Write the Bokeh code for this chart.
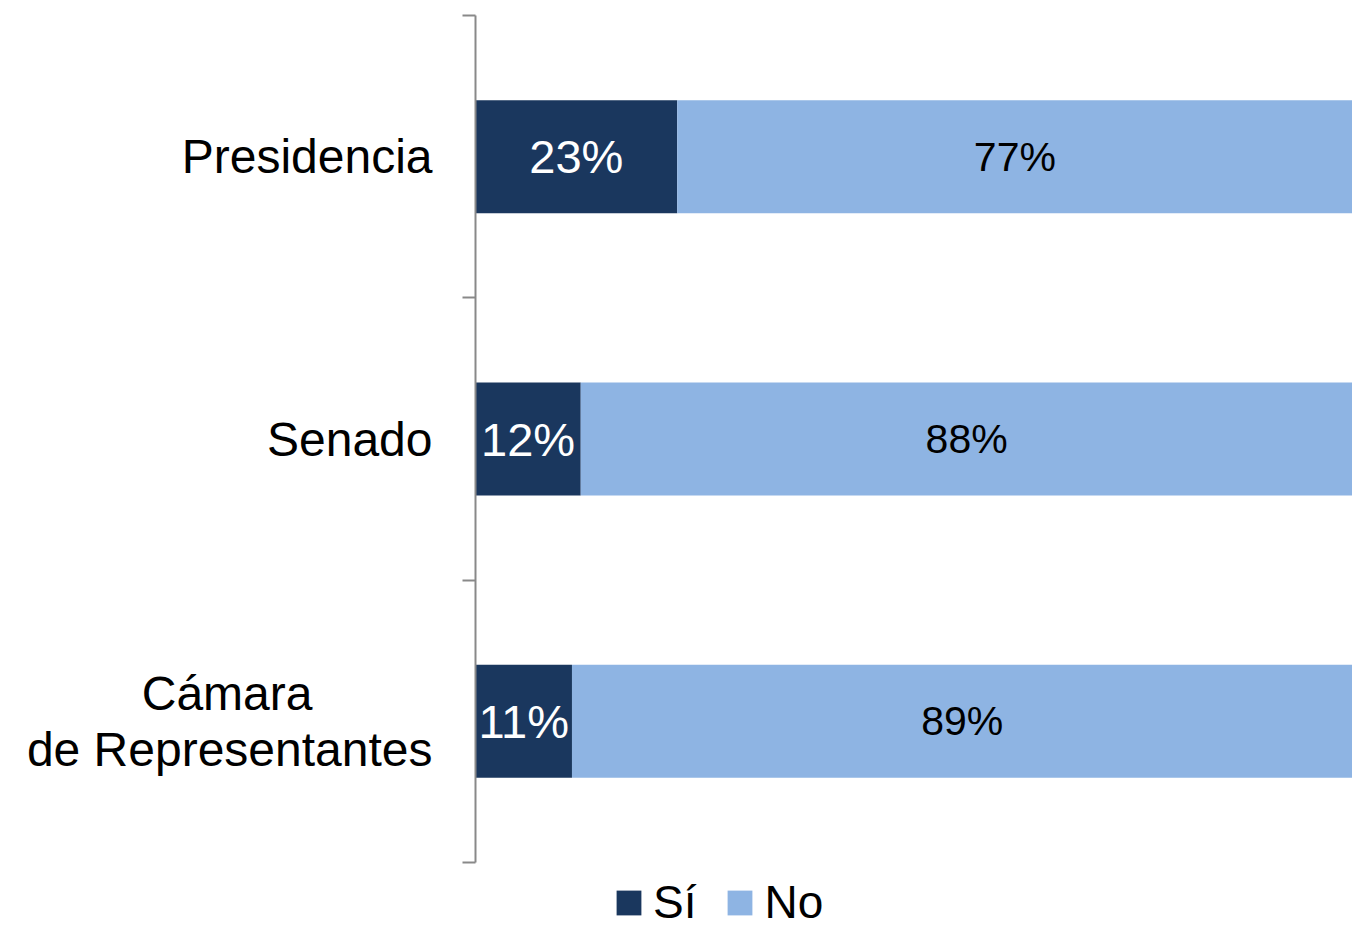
from bokeh.plotting import figure
from bokeh.models import Range1d, FixedTicker, Legend, LegendItem, ColumnDataSource
from bokeh.embed import file_html
from bokeh.resources import INLINE

categories = ["Presidencia", "Senado", "Cámara\nde Representantes"]
si_values = [23, 12, 11]
no_values = [77, 88, 89]
series_names = ["Sí", "No"]

DARK = "#1A375E"
LIGHT = "#8EB4E3"
AXIS = "#898989"
FONT = "Liberation Sans"

W, H = 1352, 931
TOP, LEFT, LEGEND_SPACE = 15, 475, 69

n = len(categories)
ycenters = [n - i - 0.5 for i in range(n)]
px_per_unit = (H - TOP - LEGEND_SPACE) / n

p = figure(width=W, height=H, output_backend="svg", toolbar_location=None,
           x_range=Range1d(0, 100), y_range=Range1d(-LEGEND_SPACE / px_per_unit, n),
           x_axis_location=None, min_border_left=LEFT, min_border_right=0,
           min_border_top=TOP, min_border_bottom=0)
p.outline_line_color = None
p.grid.visible = False

src = ColumnDataSource(dict(
    y=ycenters,
    si_left=[0] * n, si_right=si_values,
    no_left=si_values, no_right=[s + v for s, v in zip(si_values, no_values)],
    si_mid=[v / 2 for v in si_values],
    no_mid=[s + v / 2 for s, v in zip(si_values, no_values)],
    si_txt=[f"{v}%" for v in si_values],
    no_txt=[f"{v}%" for v in no_values],
))

r1 = p.hbar(y="y", left="si_left", right="si_right", height=0.4, source=src,
            fill_color=DARK, line_color=None)
r2 = p.hbar(y="y", left="no_left", right="no_right", height=0.4, source=src,
            fill_color=LIGHT, line_color=None)

p.text(x="si_mid", y="y", text="si_txt", source=src, text_align="center",
       text_baseline="middle", text_color="white", text_font_size="47px",
       text_font={"value": FONT})
p.text(x="no_mid", y="y", text="no_txt", source=src, text_align="center",
       text_baseline="middle", text_color="black", text_font_size="41px",
       text_font={"value": FONT})


def display_label(cat):
    # centre the first line of a two-line label over the second one
    lines = cat.split("\n")
    if len(lines) == 2:
        return lines[0] + "\u00a0" * 9 + "\n" + lines[1]
    return cat


ax = p.yaxis[0]
ax.ticker = FixedTicker(ticks=ycenters, minor_ticks=list(range(n + 1)))
ax.major_label_overrides = {yc: display_label(cat) for yc, cat in zip(ycenters, categories)}
ax.major_label_text_font = FONT
ax.major_label_text_font_size = "48px"
ax.major_label_text_color = "black"
ax.major_label_text_line_height = 1.05
ax.major_label_standoff = 30
ax.bounds = (0, n)
ax.axis_line_color = AXIS
ax.axis_line_width = 2
ax.major_tick_line_color = None
ax.major_tick_in = 0
ax.major_tick_out = 0
ax.minor_tick_line_color = AXIS
ax.minor_tick_line_width = 2
ax.minor_tick_in = 0
ax.minor_tick_out = 13

legend = Legend(items=[LegendItem(label=series_names[0], renderers=[r1]),
                       LegendItem(label=series_names[1], renderers=[r2])],
                orientation="horizontal", location=(138, 2),
                label_text_font=FONT, label_text_font_size="46px", label_text_color="black",
                glyph_width=31, glyph_height=31, label_standoff=9, spacing=28,
                padding=0, margin=0, border_line_color=None, background_fill_alpha=0)
p.add_layout(legend, "center")

open("out.html", "w").write(file_html(p, INLINE))
